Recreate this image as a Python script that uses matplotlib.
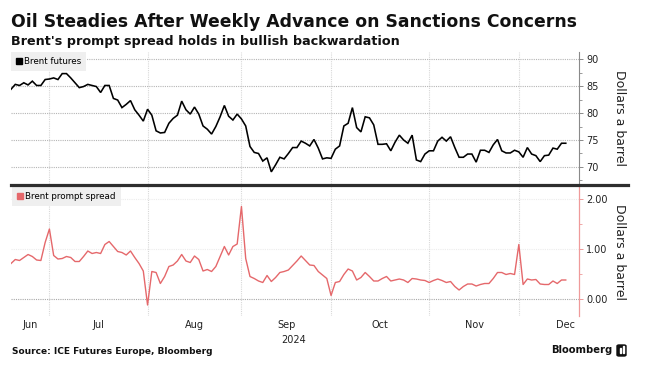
import matplotlib
matplotlib.use('Agg')
import matplotlib.pyplot as plt
from matplotlib.lines import Line2D
from matplotlib.patches import FancyBboxPatch, Rectangle
from matplotlib.ticker import MultipleLocator, FixedLocator, NullFormatter
import numpy as np
import pandas as pd

# Brent futures, $/bbl, one value per trading day from Jun 18 2024
brent = [84.4, 85.3, 85.1, 85.6, 85.2, 85.9, 85.1, 85.1, 86.2, 86.3,
         86.5, 86.2, 87.3, 87.3, 86.5, 85.6, 84.7, 84.9, 85.3, 85.1,
         84.9, 83.8, 85.1, 85.1, 82.7, 82.4, 81.0, 81.6, 82.3, 80.6,
         79.6, 78.5, 80.7, 79.6, 76.7, 76.3, 76.4, 78.1, 79.0, 79.6,
         82.2, 80.6, 79.8, 81.1, 79.8, 77.6, 77.0, 76.1, 77.5, 79.3,
         81.4, 79.4, 78.7, 79.8, 78.9, 77.6, 73.8, 72.7, 72.5, 71.1,
         71.7, 69.1, 70.4, 71.8, 71.5, 72.5, 73.6, 73.6, 74.8, 74.4,
         73.9, 75.1, 73.5, 71.5, 71.7, 71.6, 73.3, 73.9, 77.6, 78.1,
         81.0, 77.3, 76.5, 79.3, 79.1, 77.8, 74.2, 74.2, 74.3, 73.0,
         74.6, 75.9, 75.0, 74.4, 75.9, 71.3, 71.0, 72.4, 73.0, 73.0,
         74.8, 75.5, 74.8, 75.6, 73.6, 71.8, 71.8, 72.4, 72.4, 70.9,
         73.1, 73.1, 72.7, 74.1, 75.1, 73.0, 72.6, 72.6, 73.1, 72.8,
         71.8, 73.6, 72.4, 72.1, 71.0, 72.1, 72.2, 73.5, 73.3, 74.4,
         74.4]

# Brent prompt spread, $/bbl
spread = [0.71, 0.79, 0.77, 0.83, 0.89, 0.85, 0.78, 0.77, 1.13, 1.40,
          0.87, 0.80, 0.81, 0.85, 0.83, 0.75, 0.75, 0.85, 0.96, 0.91,
          0.93, 0.91, 1.09, 1.15, 1.05, 0.95, 0.93, 0.88, 0.96, 0.83,
          0.71, 0.56, -0.12, 0.55, 0.53, 0.31, 0.45, 0.65, 0.68, 0.76,
          0.89, 0.76, 0.73, 0.86, 0.79, 0.56, 0.59, 0.55, 0.65, 0.85,
          1.05, 0.88, 1.05, 1.10, 1.85, 0.81, 0.45, 0.41, 0.36, 0.33,
          0.47, 0.35, 0.43, 0.53, 0.55, 0.58, 0.67, 0.76, 0.86, 0.77,
          0.68, 0.67, 0.55, 0.48, 0.41, 0.07, 0.33, 0.35, 0.49, 0.60,
          0.56, 0.38, 0.43, 0.53, 0.45, 0.36, 0.36, 0.41, 0.45, 0.36,
          0.38, 0.40, 0.38, 0.33, 0.41, 0.40, 0.38, 0.37, 0.33, 0.37,
          0.40, 0.37, 0.33, 0.35, 0.25, 0.18, 0.25, 0.30, 0.30, 0.26,
          0.29, 0.31, 0.31, 0.41, 0.53, 0.53, 0.49, 0.51, 0.49, 1.09,
          0.29, 0.40, 0.38, 0.39, 0.30, 0.29, 0.29, 0.36, 0.31, 0.38,
          0.38]

month_names = ['Jun', 'Jul', 'Aug', 'Sep', 'Oct', 'Nov', 'Dec']
top_ticks = [70, 75, 80, 85, 90]
bot_ticks = [0.0, 1.0, 2.0]

# trading-day axis (weekends skipped, like the terminal chart)
days = pd.bdate_range('2024-06-18', '2024-12-31')
mon = np.asarray(days.month)
starts = [int(np.where(mon == m)[0][0]) for m in range(7, 13)]
centers = []
for m in range(6, 13):
    idx = np.where(mon == m)[0]
    centers.append((idx[0] + idx[-1] + 1) / 2)
x = np.arange(len(brent))

W, H = 646, 371
fig = plt.figure(figsize=(W / 100, H / 100), dpi=100)
fig.patch.set_facecolor('white')


def px(xp, yp):
    return xp / W, 1 - yp / H


RED = '#e5686b'
GRID = '#b5b5b5'
VGRID = '#d8d8d8'
XMAX = 133.1

ax1 = fig.add_axes([11 / W, 1 - 184 / H, 568 / W, 132 / H])
ax2 = fig.add_axes([11 / W, 1 - 316 / H, 568 / W, 130 / H])

ax1.plot(x, brent, color='black', lw=1.15, solid_joinstyle='miter')
ax2.plot(x, spread, color=RED, lw=1.0)

for ax in (ax1, ax2):
    ax.set_xlim(0, XMAX)
    for s in ('top', 'left', 'bottom'):
        ax.spines[s].set_visible(False)
    ax.yaxis.tick_right()
    ax.xaxis.set_major_locator(FixedLocator(starts))
    ax.xaxis.set_major_formatter(NullFormatter())
    ax.tick_params(axis='x', which='both', length=0)
    ax.grid(axis='x', color=VGRID, lw=0.8, ls=(0, (1, 1)))
    ax.tick_params(axis='y', which='major', length=3, width=0.7, pad=2,
                   labelsize=7, labelcolor='#222222')
    ax.tick_params(axis='y', which='minor', length=2, width=0.6)
    ax.set_axisbelow(True)

# top panel
ax1.set_ylim(66.85, 91.3)
ax1.set_yticks(top_ticks)
ax1.yaxis.set_minor_locator(MultipleLocator(2.5))
ax1.spines['right'].set_color('#8a8a8a')
ax1.spines['right'].set_linewidth(0.8)
ax1.tick_params(axis='y', which='both', color='#8a8a8a')
ax1.grid(axis='y', color=GRID, lw=0.8, ls=(0, (1, 1)))

# bottom panel
ax2.set_ylim(-0.34, 2.26)
ax2.set_yticks(bot_ticks)
ax2.set_yticklabels([f'{v:.2f}' for v in bot_ticks])
ax2.yaxis.set_minor_locator(MultipleLocator(0.5))
ax2.spines['right'].set_color('#ef9a9a')
ax2.spines['right'].set_linewidth(0.9)
ax2.tick_params(axis='y', which='both', color='#ef9a9a')
for v, c in zip(bot_ticks, ['#a8a8a8', '#ececec', '#ececec']):
    ax2.axhline(v, color=c, lw=0.8, ls=(0, (1, 1)), zorder=0)

ax2.xaxis.set_minor_locator(FixedLocator(centers))
ax2.set_xticks(centers, minor=True)
ax2.set_xticklabels(month_names, minor=True)
ax2.tick_params(axis='x', which='minor', labelsize=7, labelcolor='#222222', pad=3)

# legends
for ax, lab, col in ((ax1, 'Brent futures', 'black'), (ax2, 'Brent prompt spread', RED)):
    h = Line2D([], [], marker='s', color=col, ls='none', markersize=4.5)
    leg = ax.legend([h], [lab], loc='upper left', fontsize=6.3, frameon=True,
                    fancybox=False, borderaxespad=0.15 if ax is ax2 else 0,
                    handlelength=0.7, handletextpad=0.25, borderpad=0.55,
                    facecolor='#efefef', edgecolor='none', framealpha=1)
    leg.set_zorder(5)

# separator between panels
fig.add_artist(Line2D([11 / W, 628 / W], [1 - 185 / H] * 2, color='#2e2e2e', lw=2.3))

# axis titles
fig.text(*px(620, 118), 'Dollars a barrel', rotation=270, ha='center', va='center',
         fontsize=9, color='#222222')
fig.text(*px(620, 252), 'Dollars a barrel', rotation=270, ha='center', va='center',
         fontsize=9, color='#222222')
fig.text(*px(294, 340), '2024', ha='center', va='center', fontsize=7, color='#222222')

title = fig.text(*px(11, 22), 'Oil Steadies After Weekly Advance on Sanctions Concerns',
                 fontsize=12.5, fontweight='bold', va='center', color='#111111')
sub = fig.text(*px(11, 42), "Brent's prompt spread holds in bullish backwardation",
               fontsize=10, fontweight='bold', va='center', color='#111111')
src = fig.text(*px(12, 352), 'Source: ICE Futures Europe, Bloomberg',
               fontsize=6, fontweight='bold', va='center', color='#111111')
logo = fig.text(*px(551, 350), 'Bloomberg', fontsize=8, fontweight='semibold',
                va='center', color='#111111')

fig.canvas.draw()
r = fig.canvas.get_renderer()
for t, wpx in ((title, 564), (sub, 386), (src, 201), (logo, 61)):
    w = t.get_window_extent(r).width
    t.set_fontsize(t.get_fontsize() * wpx / w)

# logo mark
fig.add_artist(FancyBboxPatch(px(617, 356), 9 / W, 11 / H,
                              boxstyle='round,pad=0,rounding_size=0.003',
                              transform=fig.transFigure, color='#111111'))
for bx, bh in ((619.5, 5), (622.5, 7)):
    fig.add_artist(Rectangle(px(bx, 353), 1.5 / W, bh / H, transform=fig.transFigure,
                             color='white'))

fig.savefig('out.png', dpi=100)
